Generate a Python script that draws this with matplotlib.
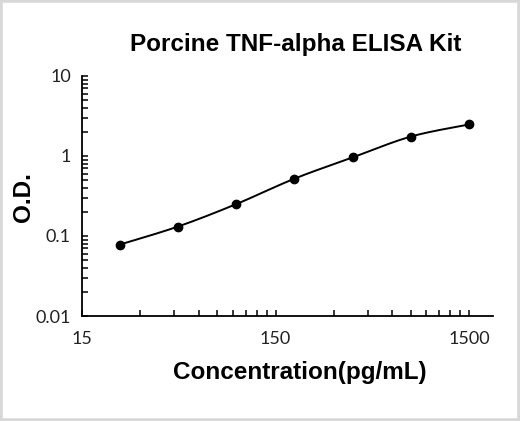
import numpy as np
import matplotlib.pyplot as plt
from matplotlib.ticker import FixedLocator, NullFormatter
from matplotlib.patches import Rectangle

# standard curve
conc = [23.4375, 46.875, 93.75, 187.5, 375, 750, 1500]
od = [0.078, 0.131, 0.25, 0.52, 0.96, 1.75, 2.48]

x_major = [15, 150, 1500]
x_minor = [15 * m * 10**k for k in range(2) for m in range(2, 10)]
y_major = [0.01, 0.1, 1, 10]


def smooth_line(px, py, n=30):
    # Catmull-Rom style smoothing between the points (like a spreadsheet "smoothed line")
    p = np.column_stack([px, py])
    p = np.vstack([p[0], p, p[-1]])
    out = []
    for i in range(1, len(p) - 2):
        p0, p1, p2, p3 = p[i - 1], p[i], p[i + 1], p[i + 2]
        t = np.linspace(0, 1, n)[:, None]
        seg = 0.5 * ((2 * p1) + (-p0 + p2) * t + (2 * p0 - 5 * p1 + 4 * p2 - p3) * t**2
                     + (-p0 + 3 * p1 - 3 * p2 + p3) * t**3)
        out.append(seg)
    out = np.vstack(out)
    return out[:, 0], out[:, 1]


fig = plt.figure(figsize=(5.2, 4.21), dpi=100)
ax = fig.add_axes([0.1577, 0.2494, 0.7903, 0.5701])

lx, ly = smooth_line(np.log10(conc), np.log10(od))
ax.plot(10**lx, 10**ly, color='black', lw=1.4)
ax.plot(conc, od, 'o', color='black', ms=6)

ax.set_xscale('log')
ax.set_yscale('log')
ax.set_xlim(15, 1990)
ax.set_ylim(0.01, 10)

ax.xaxis.set_major_locator(FixedLocator(x_major))
ax.xaxis.set_minor_locator(FixedLocator(x_minor))
ax.xaxis.set_minor_formatter(NullFormatter())
ax.set_xticklabels(['15', '150', '1500'])
ax.yaxis.set_major_locator(FixedLocator(y_major))
ax.set_yticklabels(['0.01', '0.1', '1', '10'])

ax.spines['top'].set_visible(False)
ax.spines['right'].set_visible(False)
ax.spines['left'].set_linewidth(1.3)
ax.spines['bottom'].set_linewidth(1.3)
ax.tick_params(which='both', direction='in', length=4.5, width=1.1)
ax.tick_params(axis='x', which='major', pad=11)
ax.tick_params(axis='y', which='major', pad=8)
for lab in ax.get_xticklabels() + ax.get_yticklabels():
    lab.set_fontfamily('Lato')
    lab.set_fontsize(13)
    lab.set_color('#222222')

fig.text(0.568, 0.895, 'Porcine TNF-alpha ELISA Kit', ha='center', va='center',
         fontsize=17.5, fontweight='bold', family='Liberation Sans')
fig.text(0.577, 0.116, 'Concentration(pg/mL)', ha='center', va='center',
         fontsize=17.5, fontweight='bold', family='Liberation Sans')
fig.text(0.045, 0.532, 'O.D.', ha='center', va='center', rotation=90,
         fontsize=17.5, fontweight='bold', family='Liberation Sans')

fig.patches.append(Rectangle((0, 0), 1, 1, transform=fig.transFigure,
                             fill=False, edgecolor='#d8d8d8', lw=4))

fig.savefig('out.png', dpi=100)
